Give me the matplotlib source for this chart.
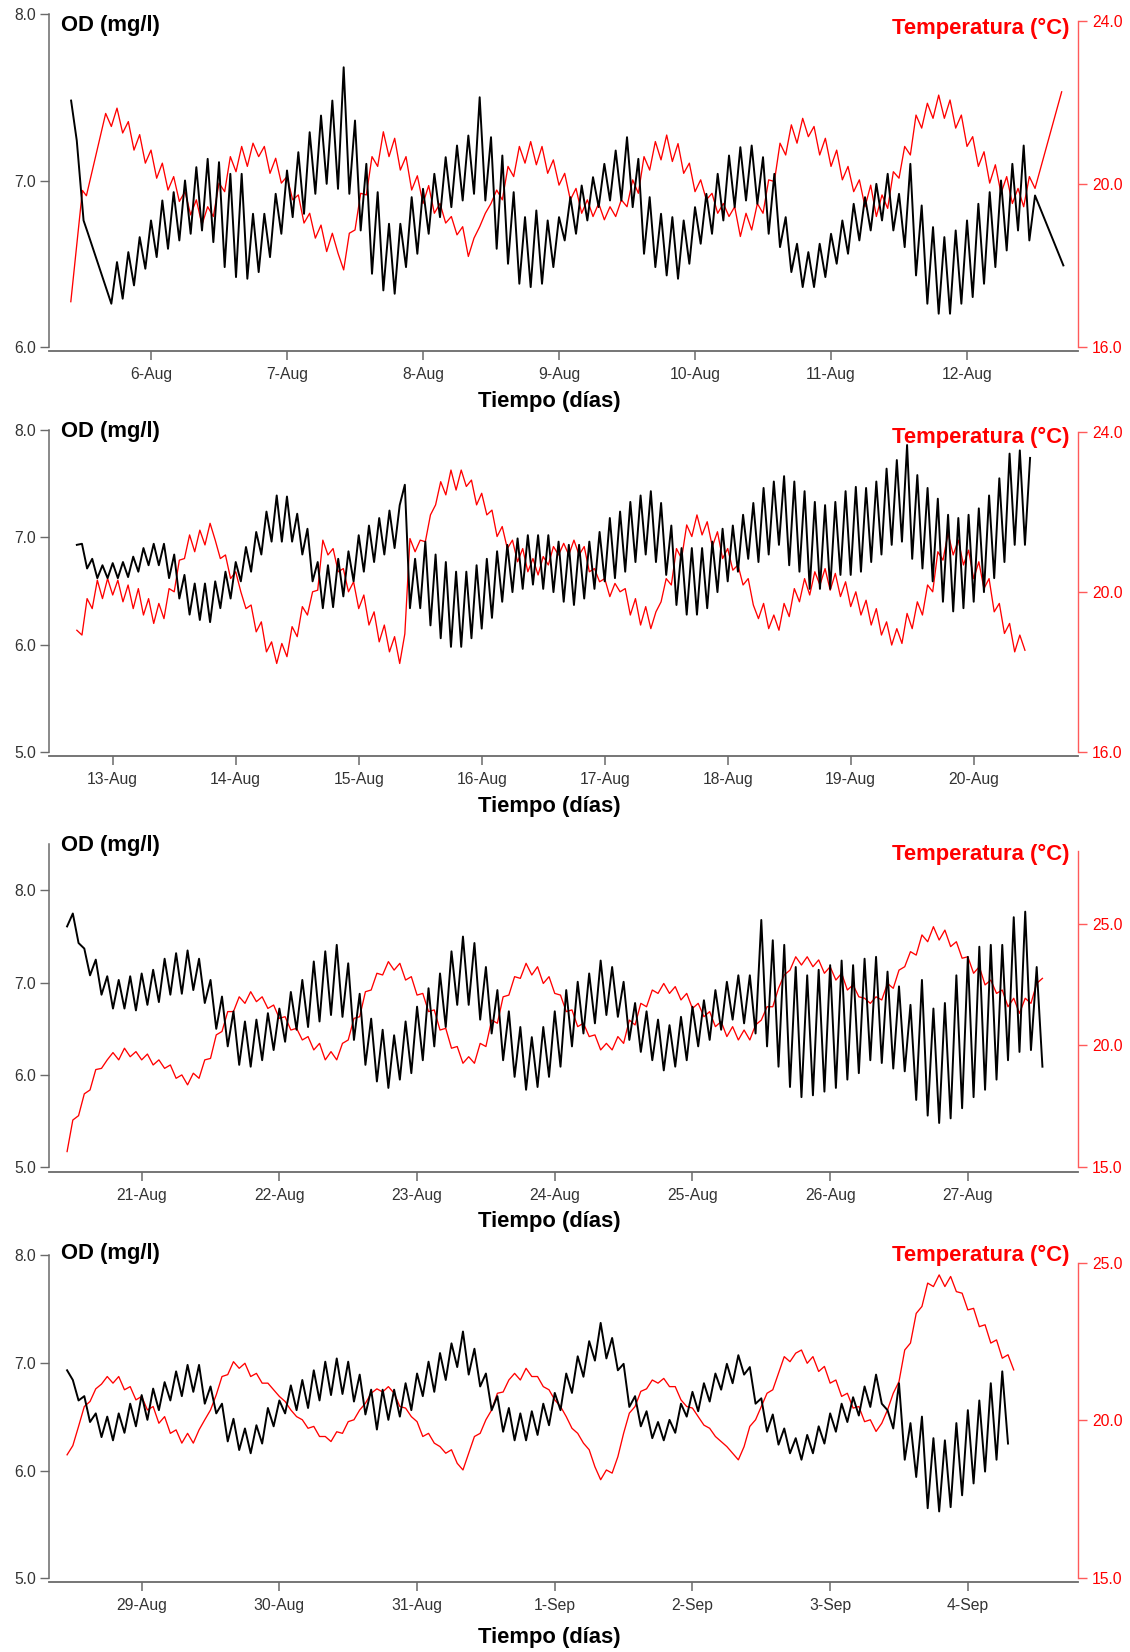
import numpy as np
import matplotlib
matplotlib.use("Agg")
import matplotlib.pyplot as plt
import matplotlib.dates as mdates
from matplotlib.ticker import FormatStrFormatter, FuncFormatter
from datetime import datetime

# ---------------- DATA (hourly extrema) ----------------
# Panel 1 : 5-Aug .. 12-Aug  (hours relative to 6-Aug 00:00)
P1_ORIGIN = datetime(2013, 8, 6)
P1_OD_HEAD_H = [-14.1, -13.1, -11.9, -11.2]
P1_OD_HEAD = [7.48, 7.24, 6.76, 6.69]
P1_OD_START_H = -7
P1_OD = [
    6.26, 6.51, 6.29, 6.57, 6.37, 6.66, 6.47, 6.76,
    6.54, 6.88, 6.59, 6.93, 6.64, 7.00, 6.68, 7.08,
    6.70, 7.13, 6.63, 7.11, 6.48, 7.04, 6.42, 7.04,
    6.41, 6.80, 6.45, 6.80, 6.54, 6.92, 6.68, 7.06,
    6.78, 7.17, 6.80, 7.29, 6.92, 7.39, 6.98, 7.48,
    6.95, 7.68, 6.92, 7.36, 6.70, 7.10, 6.44, 6.93,
    6.34, 6.74, 6.32, 6.74, 6.48, 6.90, 6.56, 6.95,
    6.68, 7.04, 6.78, 7.14, 6.84, 7.21, 6.88, 7.27,
    6.92, 7.50, 6.88, 7.26, 6.59, 7.15, 6.50, 6.93,
    6.38, 6.78, 6.36, 6.82, 6.38, 6.76, 6.48, 6.78,
    6.64, 6.90, 6.68, 6.97, 6.76, 7.02, 6.84, 7.10,
    6.88, 7.18, 6.88, 7.26, 6.84, 7.13, 6.56, 6.90,
    6.48, 6.80, 6.43, 6.78, 6.41, 6.76, 6.50, 6.84,
    6.62, 6.92, 6.68, 7.04, 6.76, 7.15, 6.84, 7.20,
    6.88, 7.21, 6.86, 7.14, 6.68, 7.04, 6.60, 6.78,
    6.45, 6.62, 6.36, 6.57, 6.36, 6.62, 6.42, 6.68,
    6.50, 6.76, 6.56, 6.86, 6.64, 6.90, 6.70, 6.98,
    6.76, 7.04, 6.70, 6.92, 6.60, 7.10, 6.43, 6.85,
    6.26, 6.72, 6.20, 6.66, 6.20, 6.70, 6.26, 6.76,
    6.30, 6.86, 6.38, 6.93, 6.48, 7.00, 6.58, 7.10,
    6.70, 7.21, 6.64, 6.91]
P1_OD_TAIL_H = [161.0]
P1_OD_TAIL = [6.49]
P1_T_HEAD_H = [-14.15, -12.1, -11.4]
P1_T_HEAD = [17.11, 19.84, 19.71]
P1_T_START_H = -8
P1_T = [
    21.73, 21.41, 21.86, 21.25, 21.53, 20.83, 21.21, 20.51,
    20.83, 20.14, 20.51, 19.85, 20.18, 19.57, 19.81, 19.24,
    19.61, 19.00, 19.44, 19.20, 20.02, 19.81, 20.67, 20.30,
    20.92, 20.43, 21.00, 20.67, 20.92, 20.26, 20.63, 20.02,
    20.18, 19.61, 19.73, 19.04, 19.28, 18.67, 18.99, 18.34,
    18.79, 18.30, 17.89, 18.79, 18.87, 19.77, 19.73, 20.67,
    20.43, 21.28, 20.67, 21.12, 20.34, 20.67, 19.85, 20.20,
    19.52, 19.96, 19.28, 19.52, 19.04, 19.20, 18.75, 18.95,
    18.22, 18.67, 18.95, 19.28, 19.52, 19.85, 19.61, 20.43,
    20.18, 20.92, 20.51, 21.04, 20.47, 20.92, 20.26, 20.59,
    19.97, 20.26, 19.61, 19.89, 19.28, 19.61, 19.20, 19.52,
    19.12, 19.44, 19.20, 19.61, 19.44, 20.10, 19.77, 20.67,
    20.34, 21.04, 20.59, 21.20, 20.55, 20.99, 20.26, 20.51,
    19.81, 20.10, 19.61, 19.77, 19.28, 19.52, 19.20, 19.44,
    18.71, 19.28, 18.87, 19.52, 19.28, 20.10, 20.06, 21.00,
    20.71, 21.45, 21.00, 21.61, 21.16, 21.41, 20.71, 21.12,
    20.43, 20.83, 20.10, 20.43, 19.81, 20.10, 19.44, 19.97,
    19.20, 19.73, 19.40, 20.30, 20.14, 20.92, 20.71, 21.69,
    21.37, 21.98, 21.61, 22.18, 21.61, 22.06, 21.37, 21.69,
    20.92, 21.16, 20.43, 20.79, 20.02, 20.47, 19.77, 20.18,
    19.52, 19.89, 19.44, 20.18, 19.89]
P1_T_TAIL_H = [160.7]
P1_T_TAIL = [22.26]

# Panel 2 : 12-Aug .. 20-Aug (hours relative to 13-Aug 00:00)
P2_ORIGIN = datetime(2013, 8, 13)
P2_OD_START_H = -7
P2_OD = [
    6.93, 6.94, 6.71, 6.80, 6.62, 6.74, 6.62, 6.76, 6.62, 6.77,
    6.63, 6.82, 6.68, 6.90, 6.74, 6.94, 6.74, 6.94, 6.62, 6.84,
    6.43, 6.65, 6.28, 6.57, 6.23, 6.57, 6.21, 6.59, 6.34, 6.68,
    6.43, 6.77, 6.59, 6.91, 6.68, 7.05, 6.84, 7.24, 6.96, 7.39,
    6.96, 7.38, 6.96, 7.22, 6.84, 7.08, 6.59, 6.77, 6.34, 6.74,
    6.35, 6.80, 6.45, 6.87, 6.59, 7.02, 6.68, 7.11, 6.77, 7.18,
    6.84, 7.25, 6.90, 7.30, 7.49,
    6.34, 6.80, 6.34, 6.96, 6.18, 6.84, 6.06, 6.77, 5.98, 6.68,
    5.98, 6.68, 6.06, 6.74, 6.15, 6.80, 6.25, 6.87, 6.40, 6.93,
    6.49, 6.99, 6.52, 7.02, 6.56, 7.02, 6.52, 7.02, 6.49, 6.96,
    6.40, 6.93, 6.37, 6.93, 6.43, 6.96, 6.52, 7.05, 6.59, 7.18,
    6.62, 7.24, 6.68, 7.33, 6.77, 7.39, 6.84, 7.43, 6.77, 7.32,
    6.65, 7.11, 6.37, 6.90, 6.28, 6.90, 6.28, 6.90, 6.34, 6.96,
    6.49, 7.08, 6.59, 7.11, 6.68, 7.21, 6.80,
    7.32, 6.77, 7.46, 6.84, 7.52, 6.93, 7.57, 6.74, 7.52, 6.68,
    7.43, 6.52, 7.33, 6.52, 7.30, 6.52, 7.33, 6.65, 7.43, 6.65,
    7.47, 6.68, 7.46, 6.77, 7.52, 6.84, 7.64, 6.93, 7.72, 6.96,
    7.86, 6.80, 7.58, 6.71, 7.46, 6.59, 7.36, 6.40, 7.21, 6.31,
    7.18, 6.34, 7.21, 6.40, 7.27, 6.49, 7.39, 6.62, 7.55, 6.77,
    7.78, 6.93, 7.81, 6.93, 7.74]
P2_T_START_H = -7
P2_T = [
    19.04, 18.92, 19.83, 19.58, 20.29, 19.83, 20.33, 19.92, 20.29, 19.75,
    20.17, 19.58, 20.08, 19.42, 19.83, 19.21, 19.71, 19.33, 20.08, 20.00,
    20.79, 20.83, 21.42, 21.00, 21.54, 21.17, 21.71, 21.29, 20.83, 20.92,
    20.33, 20.50, 20.00, 19.58, 19.67, 19.00, 19.25, 18.50, 18.75, 18.21,
    18.71, 18.38, 19.13, 18.88, 19.63, 19.42, 20.00, 20.04, 21.29, 20.92,
    21.08, 20.50, 20.58, 20.00, 20.25, 19.58, 19.92, 19.17, 19.50, 18.75,
    19.17, 18.50, 18.88, 18.21, 18.95,
    21.33, 21.00, 21.29, 21.25, 21.92, 22.17, 22.75, 22.42, 23.04, 22.54,
    23.04, 22.63, 22.79, 22.17, 22.46, 21.92, 22.04, 21.38, 21.63, 21.08,
    21.29, 20.75, 21.08, 20.50, 20.83, 20.42, 20.88, 20.67, 21.13, 20.92,
    21.21, 20.92, 21.29, 20.92, 21.13, 20.50, 20.58, 20.25, 20.33, 19.88,
    20.21, 20.00, 20.08, 19.42, 19.83, 19.17, 19.63, 19.08, 19.50, 19.75,
    20.33, 20.17, 21.08, 20.83, 21.67, 21.38, 21.92, 21.42, 21.75, 21.13,
    21.50, 20.83, 21.08, 20.54, 20.67, 20.17, 20.33, 19.67,
    19.33, 19.71, 19.08, 19.42, 19.04, 19.71, 19.38, 20.08, 19.75, 20.33,
    19.92, 20.50, 20.17, 20.58, 20.04, 20.46, 19.88, 20.25, 19.63, 20.00,
    19.42, 19.79, 19.17, 19.58, 18.92, 19.25, 18.67, 19.08, 18.71, 19.46,
    19.08, 19.75, 19.42, 20.17, 20.00, 21.00, 20.79, 21.46, 20.92, 21.29,
    20.67, 21.04, 20.33, 20.75, 20.08, 20.33, 19.50, 19.71, 18.96, 19.21,
    18.50, 18.92, 18.54]

# Panel 3 : 20-Aug .. 27-Aug (hours relative to 21-Aug 00:00)
P3_ORIGIN = datetime(2013, 8, 21)
P3_OD_START_H = -13
P3_OD = [
    7.61, 7.75, 7.43, 7.37, 7.08, 7.25, 6.87, 7.07, 6.72, 7.03,
    6.72, 7.07, 6.70,
    7.10, 6.76, 7.14, 6.79, 7.26, 6.87, 7.32, 6.88, 7.35, 6.92,
    7.26, 6.78, 7.03, 6.50, 6.85, 6.31, 6.69, 6.11, 6.58, 6.09,
    6.60, 6.16, 6.67, 6.27, 6.72, 6.36, 6.90, 6.49, 7.03, 6.52,
    7.23, 6.58, 7.34, 6.65, 7.41, 6.63, 7.21, 6.38, 6.88, 6.11,
    6.61, 5.93, 6.49, 5.86, 6.43, 5.95, 6.58, 6.02, 6.74,
    6.16, 6.94, 6.31, 7.10, 6.52, 7.34, 6.76, 7.50, 6.76, 7.43,
    6.60, 7.17, 6.45, 6.92, 6.16, 6.69, 5.98, 6.52, 5.84, 6.41,
    5.87, 6.52, 5.98, 6.69, 6.09, 6.92, 6.31, 7.01, 6.45, 7.10,
    6.56, 7.24, 6.65, 7.17, 6.63, 7.01, 6.38, 6.78, 6.25, 6.69,
    6.16, 6.60, 6.05, 6.54, 6.09, 6.63, 6.16, 6.74, 6.31, 6.81,
    6.38, 6.92, 6.49, 7.01, 6.60, 7.08, 6.56, 7.08, 6.45,
    7.68, 6.31, 7.46, 6.09, 7.41, 5.87, 7.17, 5.76, 7.08, 5.78,
    7.14, 5.82, 7.19, 5.86, 7.24, 5.95, 7.19, 6.02, 7.26, 6.16,
    7.28, 6.13, 7.12, 6.07, 6.96, 6.04, 6.76, 5.73, 7.03, 5.56,
    6.72, 5.48, 6.78, 5.53, 7.08, 5.64, 7.28, 5.76, 7.39, 5.84,
    7.41, 5.95, 7.41, 6.16, 7.71, 6.25, 7.77, 6.27, 7.17, 6.09]
P3_T_START_H = -13
P3_T = [
    15.62, 16.92, 17.10, 18.00, 18.16, 19.00, 19.05, 19.40, 19.70, 19.40,
    19.88, 19.53, 19.74,
    19.40, 19.64, 19.19, 19.40, 19.05, 19.19, 18.64, 18.78, 18.37, 18.85,
    18.64, 19.40, 19.46, 20.43, 20.57, 21.39, 21.39, 22.00, 21.73, 22.21,
    21.80, 22.00, 21.52, 21.66, 21.11, 21.18, 20.63, 20.70, 20.22, 20.36,
    19.81, 20.08, 19.40, 19.74, 19.40, 20.08, 20.22, 21.11, 21.18, 22.21,
    22.28, 22.97, 22.90, 23.45, 23.10, 23.38, 22.69, 22.83, 22.07, 22.14,
    21.39, 21.46, 20.63, 20.70, 19.88, 19.95, 19.26, 19.53, 19.26, 20.08,
    19.95, 21.04, 20.91, 22.00, 22.07, 22.83, 22.76, 23.38, 22.90, 23.24,
    22.55, 22.83, 22.14, 22.07, 21.39, 21.46, 20.77, 20.91, 20.36, 20.43,
    19.81, 20.08, 19.81, 20.36, 20.08, 21.04, 20.84, 21.73, 21.59, 22.28,
    22.14, 22.55, 22.14, 22.42, 21.87, 22.14, 21.52, 21.73, 21.18, 21.39,
    20.77, 20.98, 20.36, 20.77, 20.22, 20.63, 20.22, 20.84, 21.04, 21.59,
    21.59, 22.35, 22.90, 23.10, 23.65, 23.31, 23.65, 23.24, 23.52, 22.97,
    23.24, 22.69, 22.97, 22.28, 22.49, 22.00, 21.94, 21.73, 22.00, 21.87,
    22.55, 22.35, 23.10, 23.24, 23.86, 23.72, 24.55, 24.27, 24.89, 24.34,
    24.75, 24.07, 24.27, 23.59, 23.65, 22.97, 23.24, 22.49, 22.69, 22.14,
    22.28, 21.59, 21.94, 21.32, 21.94, 21.73, 22.55, 22.76]

# Panel 4 : 28-Aug .. 4-Sep (hours relative to 29-Aug 00:00)
P4_ORIGIN = datetime(2013, 8, 29)
P4_OD_START_H = -13
P4_OD = [
    6.93, 6.84, 6.65, 6.69, 6.45, 6.53, 6.31, 6.50, 6.28, 6.53,
    6.35, 6.62, 6.41,
    6.70, 6.47, 6.76, 6.56, 6.82, 6.65, 6.92, 6.69, 6.98, 6.73,
    6.98, 6.62, 6.78, 6.53, 6.62, 6.27, 6.48, 6.19, 6.39, 6.16,
    6.42, 6.25, 6.58, 6.41, 6.65, 6.53, 6.79, 6.56, 6.84, 6.58,
    6.93, 6.65, 7.01, 6.70, 7.04, 6.71, 7.01, 6.64, 6.89, 6.52,
    6.75, 6.38, 6.75, 6.47, 6.75, 6.50, 6.81, 6.56, 6.90, 6.69,
    7.01, 6.73, 7.09, 6.84, 7.18, 6.96, 7.29, 6.89, 7.13, 6.78,
    6.90, 6.56, 6.69, 6.36, 6.58, 6.28, 6.53, 6.28, 6.55, 6.33,
    6.62, 6.42, 6.72, 6.56, 6.90, 6.72, 7.06, 6.87, 7.20, 7.02,
    7.37, 7.04, 7.23, 6.93, 6.99, 6.59, 6.69, 6.41, 6.55, 6.30,
    6.45, 6.28, 6.47, 6.35, 6.62, 6.50, 6.73, 6.55, 6.81, 6.64,
    6.90, 6.75, 6.99, 6.81, 7.07, 6.89, 6.96, 6.62, 6.67, 6.36,
    6.52, 6.24, 6.39, 6.16, 6.30, 6.10, 6.33, 6.16, 6.41, 6.25,
    6.53, 6.36, 6.62, 6.45, 6.68, 6.51, 6.78, 6.59, 6.89, 6.62,
    6.56, 6.39, 6.81, 6.10, 6.44, 5.94, 6.50, 5.65, 6.30, 5.62,
    6.28, 5.66, 6.44, 5.77, 6.56, 5.88, 6.65, 5.99, 6.81, 6.10,
    6.92, 6.25]
P4_T_START_H = -13
P4_T = [
    18.91, 19.20, 19.81, 20.44, 20.60, 21.00, 21.15, 21.39, 21.18, 21.39,
    20.97, 21.07, 20.65,
    20.76, 20.33, 20.44, 19.91, 20.12, 19.59, 19.70, 19.28, 19.59, 19.28,
    19.70, 20.02, 20.33, 20.81, 21.39, 21.45, 21.86, 21.65, 21.81, 21.39,
    21.49, 21.18, 21.18, 20.97, 20.76, 20.60, 20.33, 20.12, 20.02, 19.75,
    19.81, 19.49, 19.49, 19.33, 19.64, 19.59, 19.96, 20.02, 20.33, 20.54,
    20.86, 21.00, 20.90, 21.07, 20.86, 20.44, 20.39, 20.12, 19.96, 19.49,
    19.59, 19.28, 19.17, 18.96, 19.07, 18.64, 18.43, 18.96, 19.49, 19.59,
    20.02, 20.33, 20.86, 20.90, 21.28, 21.49, 21.28, 21.65, 21.39, 21.39,
    21.07, 20.97, 20.65, 20.44, 20.12, 19.75, 19.59, 19.28, 19.07, 18.53,
    18.12, 18.43, 18.33, 18.85, 19.59, 20.23, 20.44, 20.92, 21.00, 21.28,
    21.18, 21.33, 21.07, 21.07, 20.65, 20.44, 20.39, 20.12, 19.85, 19.75,
    19.49, 19.33, 19.17, 18.96, 18.75, 19.17, 19.81, 20.02, 20.44, 20.86,
    20.97, 21.49, 22.02, 21.86, 22.13, 22.23, 21.81, 22.02, 21.55, 21.71,
    21.18, 21.28, 20.76, 20.86, 20.39, 20.44, 19.96, 20.02, 19.65, 19.91,
    20.33, 20.86, 21.23, 22.23, 22.45, 23.39, 23.61, 24.35, 24.24, 24.61,
    24.24, 24.56, 24.08, 24.03, 23.50, 23.55, 22.97, 23.03, 22.45, 22.55,
    21.97, 22.08, 21.60]

OD_LABEL = "OD (mg/l)"
T_LABEL = "Temperatura (°C)"
X_LABEL = "Tiempo (días)"

# ---------------- LAYOUT ----------------
W, H = 1130, 1652
plt.rcParams['font.family'] = ['Liberation Sans', 'DejaVu Sans']

fig = plt.figure(figsize=(W / 100, H / 100), dpi=100)

panels = [
    dict(origin=P1_ORIGIN,
         od=(P1_OD_HEAD_H, P1_OD_HEAD, P1_OD_START_H, P1_OD, P1_OD_TAIL_H, P1_OD_TAIL),
         t=(P1_T_HEAD_H, P1_T_HEAD, P1_T_START_H, P1_T, P1_T_TAIL_H, P1_T_TAIL)),
    dict(origin=P2_ORIGIN,
         od=([], [], P2_OD_START_H, P2_OD, [], []),
         t=([], [], P2_T_START_H, P2_T, [], [])),
    dict(origin=P3_ORIGIN,
         od=([], [], P3_OD_START_H, P3_OD, [], []),
         t=([], [], P3_T_START_H, P3_T, [], [])),
    dict(origin=P4_ORIGIN,
         od=([], [], P4_OD_START_H, P4_OD, [], []),
         t=([], [], P4_T_START_H, P4_T, [], [])),
]

# top_px, bottom_px, xlo, xhi (days from origin), od ylim, od spine, od ticks,
# temp ylim, temp spine, temp ticks, OD label y, Temp label y, x-label y
GEOM = [
    (14, 351, -0.75, 6.816, (5.976, 8.0), (6, 8), [6, 7, 8],
     (15.90, 24.17), (16, 24), [16, 20, 24], 25, 28, 401),
    (430, 756, -0.518, 7.848, (4.963, 8.0), (5, 8), [5, 6, 7, 8],
     (15.90, 24.04), (16, 24), [16, 20, 24], 432, 437, 807),
    (843, 1171.7, -0.673, 6.80, (4.952, 8.514), (5, 8.5), [5, 6, 7, 8],
     (14.79, 28.34), (15, 28), [15, 20, 25], 846, 854, 1222),
    (1255, 1581.7, -0.673, 6.80, (4.968, 8.0), (5, 8), [5, 6, 7, 8],
     (14.89, 25.24), (15, 25), [15, 20, 25], 1254, 1255, 1637),
]

LEFT_PX, RIGHT_PX = 49, 1078
AX_GRAY = "#6a6a6a"
TXT_GRAY = "#333333"
RED = "#ff0000"


def build(origin, spec):
    head_h, head_v, start_h, vals, tail_h, tail_v = spec
    hrs = list(head_h) + [start_h + i for i in range(len(vals))] + list(tail_h)
    v = list(head_v) + list(vals) + list(tail_v)
    t = mdates.date2num(origin) + np.array(hrs, dtype=float) / 24.0
    return t, np.array(v, dtype=float)


def day_fmt(x, pos=None):
    d = mdates.num2date(x)
    return f"{d.day}-{d.strftime('%b')}"


for p, g in zip(panels, GEOM):
    (top, bot, xlo, xhi, odlim, odb, odt, tlim, tb, tt, ody, ty, xly) = g
    rect = [LEFT_PX / W, 1 - bot / H, (RIGHT_PX - LEFT_PX) / W, (bot - top) / H]
    ax = fig.add_axes(rect)
    ax2 = ax.twinx()
    ax.set_zorder(ax2.get_zorder() + 1)
    ax.patch.set_visible(False)

    o = mdates.date2num(p["origin"])
    t_od, v_od = build(p["origin"], p["od"])
    t_t, v_t = build(p["origin"], p["t"])
    ax.plot(t_od, v_od, color="black", lw=1.4, solid_joinstyle="round")
    ax2.plot(t_t, v_t, color=RED, lw=0.95, solid_joinstyle="round")

    ax.set_xlim(o + xlo, o + xhi)
    ax.set_ylim(*odlim)
    ax2.set_ylim(*tlim)

    for s in ["top", "right"]:
        ax.spines[s].set_visible(False)
    for s in ["top", "left", "bottom"]:
        ax2.spines[s].set_visible(False)
    ax.spines["left"].set_bounds(*odb)
    ax.spines["left"].set_color(AX_GRAY)
    ax.spines["left"].set_linewidth(1.1)
    ax.spines["bottom"].set_color(AX_GRAY)
    ax.spines["bottom"].set_linewidth(1.3)
    ax2.spines["right"].set_bounds(*tb)
    ax2.spines["right"].set_color("#ff5a5a")
    ax2.spines["right"].set_linewidth(1.0)

    ax.set_yticks(odt)
    ax.yaxis.set_major_formatter(FormatStrFormatter("%.1f"))
    ax2.set_yticks(tt)
    ax2.yaxis.set_major_formatter(FormatStrFormatter("%.1f"))
    ax.xaxis.set_major_locator(mdates.DayLocator())
    ax.xaxis.set_major_formatter(FuncFormatter(day_fmt))

    ax.tick_params(axis="y", direction="out", length=6.5, width=1.0,
                   color=AX_GRAY, labelcolor=TXT_GRAY, labelsize=11.3, pad=3)
    ax.tick_params(axis="x", direction="out", length=6.5, width=1.1,
                   color=AX_GRAY, labelcolor=TXT_GRAY, labelsize=11.3, pad=5)
    ax2.tick_params(axis="y", direction="out", length=6.5, width=1.0,
                    color="#ff5a5a", labelcolor=RED, labelsize=11.3, pad=3.5)

    fig.text(61 / W, 1 - ody / H, OD_LABEL, fontsize=15.8, fontweight="bold",
             color="black", ha="left", va="center")
    fig.text(1070 / W, 1 - ty / H, T_LABEL, fontsize=15.8, fontweight="bold",
             color=RED, ha="right", va="center")
    fig.text(549 / W, 1 - xly / H, X_LABEL, fontsize=15.8, fontweight="bold",
             color="black", ha="center", va="center")

fig.savefig("out.png", dpi=100)
